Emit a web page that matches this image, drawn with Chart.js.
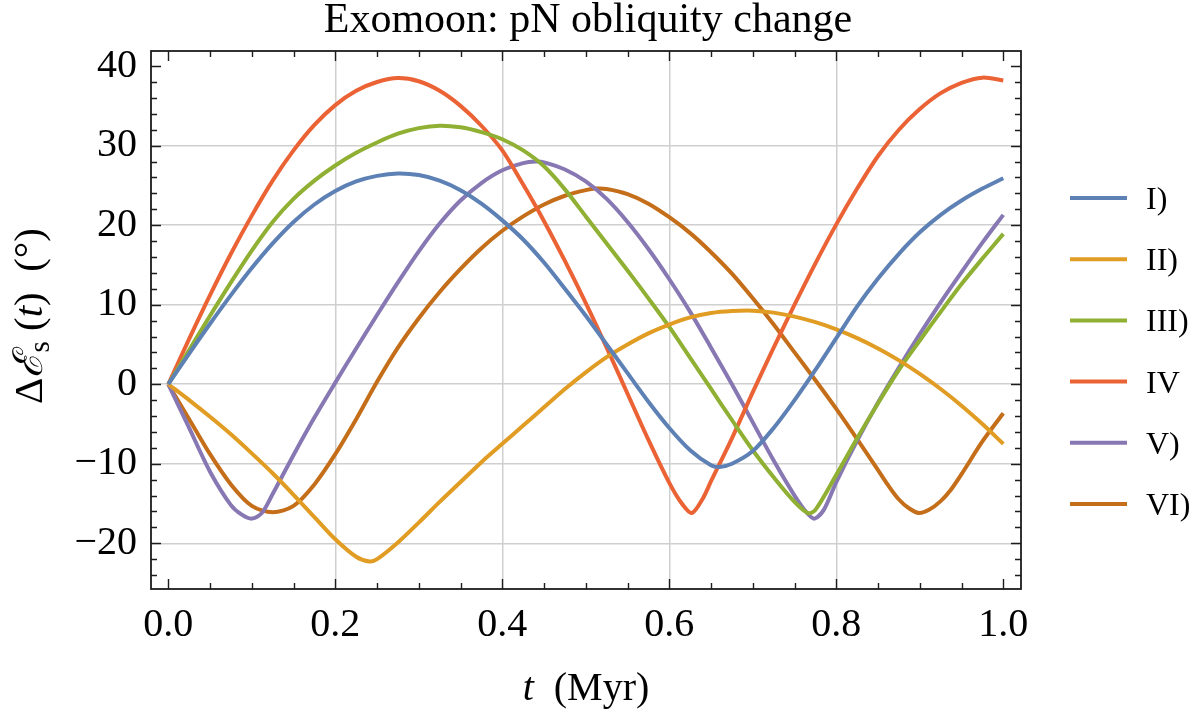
<!DOCTYPE html>
<html>
<head>
<meta charset="utf-8">
<script src="https://cdn.jsdelivr.net/npm/chart.js@4.4.1/dist/chart.umd.min.js"></script>
<style>
  html, body { margin: 0; padding: 0; background: #fff; }
  #wrap { width: 1200px; height: 717px; }
</style>
</head>
<body>
<div id="wrap"><canvas id="obliquityChart" width="1200" height="717"></canvas></div>
<script>
// series names and colours
const seriesNames = ['I)', 'II)', 'III)', 'IV', 'V)', 'VI)'];
const seriesColors = ['#5E81B5', '#E19C24', '#8FB032', '#EB6235', '#8778B3', '#C56E1A'];

// t (Myr) and obliquity change (deg) for each case
const tI = [0, 0.025, 0.05, 0.075, 0.1, 0.125, 0.15, 0.175, 0.2, 0.225, 0.25, 0.275, 0.3, 0.325, 0.35, 0.375, 0.4, 0.425, 0.45, 0.475, 0.5, 0.525, 0.55, 0.575, 0.6, 0.625, 0.65, 0.66, 0.675, 0.7, 0.725, 0.75, 0.775, 0.8, 0.825, 0.85, 0.875, 0.9, 0.925, 0.95, 0.975, 1.0];
const yI = [0, 3.85, 7.6, 11.2, 14.6, 17.7, 20.4, 22.6, 24.3, 25.5, 26.2, 26.5, 26.3, 25.6, 24.4, 22.7, 20.6, 18.2, 15.3, 12.0, 8.6, 5.0, 1.4, -2.2, -5.5, -8.3, -10.2, -10.4, -10.0, -8.4, -5.5, -2.0, 1.8, 5.8, 9.8, 13.3, 16.4, 19.1, 21.3, 23.1, 24.6, 25.9];

const tII = [0, 0.025, 0.05, 0.075, 0.1, 0.125, 0.15, 0.175, 0.2, 0.225, 0.241, 0.25, 0.275, 0.3, 0.325, 0.35, 0.375, 0.4, 0.425, 0.45, 0.475, 0.5, 0.525, 0.55, 0.575, 0.6, 0.625, 0.65, 0.675, 0.7, 0.725, 0.75, 0.775, 0.8, 0.825, 0.85, 0.875, 0.9, 0.925, 0.95, 0.975, 1.0];
const yII = [0, -2.0, -4.1, -6.3, -8.7, -11.2, -13.9, -16.7, -19.5, -21.7, -22.3, -22.0, -19.9, -17.4, -14.8, -12.3, -9.8, -7.5, -5.2, -2.9, -0.6, 1.5, 3.4, 5.0, 6.4, 7.5, 8.4, 8.95, 9.2, 9.25, 9.0, 8.5, 7.8, 6.9, 5.8, 4.5, 3.0, 1.3, -0.6, -2.7, -5.0, -7.5];

const tIII = [0, 0.025, 0.05, 0.075, 0.1, 0.125, 0.15, 0.175, 0.2, 0.225, 0.25, 0.275, 0.3, 0.325, 0.35, 0.375, 0.4, 0.425, 0.45, 0.475, 0.5, 0.525, 0.55, 0.575, 0.6, 0.625, 0.65, 0.675, 0.7, 0.725, 0.75, 0.766, 0.775, 0.8, 0.825, 0.85, 0.875, 0.9, 0.925, 0.95, 0.975, 1.0];
const yIII = [0, 4.3, 8.6, 12.8, 16.8, 20.4, 23.3, 25.6, 27.5, 29.1, 30.4, 31.5, 32.2, 32.5, 32.3, 31.7, 30.8, 29.4, 27.4, 24.5, 21.1, 17.7, 14.3, 10.8, 7.2, 3.3, -0.6, -4.5, -8.3, -11.7, -14.8, -16.2, -15.8, -11.4, -6.8, -2.4, 1.8, 5.5, 9.1, 12.6, 15.8, 18.9];

const tIV = [0, 0.025, 0.05, 0.075, 0.1, 0.125, 0.15, 0.175, 0.2, 0.225, 0.25, 0.275, 0.3, 0.325, 0.35, 0.375, 0.4, 0.425, 0.45, 0.475, 0.5, 0.525, 0.55, 0.575, 0.6, 0.615, 0.627, 0.64, 0.65, 0.675, 0.7, 0.725, 0.75, 0.775, 0.8, 0.825, 0.85, 0.875, 0.9, 0.925, 0.95, 0.975, 1.0];
const yIV = [0, 5.7, 11.2, 16.4, 21.2, 25.6, 29.4, 32.6, 35.1, 36.9, 38.0, 38.5, 38.1, 36.9, 35.0, 32.5, 29.4, 25.1, 20.5, 15.5, 10.2, 4.6, -1.2, -7.0, -12.4, -15.0, -16.2, -14.4, -12.2, -6.8, -1.0, 4.6, 10.0, 15.2, 20.1, 24.6, 28.7, 32.0, 34.6, 36.6, 37.9, 38.55, 38.2];

const tV = [0, 0.025, 0.05, 0.075, 0.088, 0.1, 0.112, 0.125, 0.15, 0.175, 0.2, 0.225, 0.25, 0.275, 0.3, 0.325, 0.35, 0.375, 0.4, 0.425, 0.44, 0.45, 0.475, 0.5, 0.525, 0.55, 0.575, 0.6, 0.625, 0.65, 0.675, 0.7, 0.725, 0.75, 0.765, 0.774, 0.785, 0.8, 0.825, 0.85, 0.875, 0.9, 0.925, 0.95, 0.975, 1.0];
const yV = [0, -5.5, -11.0, -15.2, -16.4, -16.9, -16.2, -13.8, -8.9, -4.2, 0.2, 4.5, 8.7, 12.8, 16.7, 20.2, 23.1, 25.3, 26.9, 27.8, 28.0, 27.9, 27.0, 25.5, 23.3, 20.4, 17.0, 13.2, 9.1, 4.6, 0.0, -4.8, -9.6, -14.0, -16.2, -16.9, -15.8, -12.3, -7.1, -2.3, 2.1, 6.3, 10.3, 14.1, 17.8, 21.3];

const tVI = [0, 0.025, 0.05, 0.075, 0.1, 0.125, 0.15, 0.175, 0.2, 0.225, 0.25, 0.275, 0.3, 0.325, 0.35, 0.375, 0.4, 0.425, 0.45, 0.475, 0.5, 0.512, 0.525, 0.55, 0.575, 0.6, 0.625, 0.65, 0.675, 0.7, 0.725, 0.75, 0.775, 0.8, 0.825, 0.85, 0.862, 0.875, 0.887, 0.899, 0.911, 0.925, 0.937, 0.95, 0.975, 1.0];
const yVI = [0, -4.4, -8.8, -12.6, -15.3, -16.1, -15.3, -12.6, -8.8, -4.4, 0.3, 4.6, 8.3, 11.6, 14.5, 17.1, 19.3, 21.1, 22.6, 23.7, 24.4, 24.6, 24.55, 23.9, 22.7, 21.0, 19.0, 16.6, 13.9, 10.8, 7.5, 4.0, 0.5, -3.1, -6.9, -10.8, -12.7, -14.5, -15.6, -16.2, -15.8, -14.7, -13.3, -11.3, -7.2, -3.65];

const seriesT = [tI, tII, tIII, tIV, tV, tVI];
const seriesY = [yI, yII, yIII, yIV, yV, yVI];

// axis ticks
const xTicks = [0, 0.2, 0.4, 0.6, 0.8, 1.0];
const yTicks = [-20, -10, 0, 10, 20, 30, 40];

const SERIF = "'Liberation Serif', 'Times New Roman', 'DejaVu Serif', serif";

// draw a row of text pieces with different fonts, centred on x
function drawRuns(ctx, runs, x, y) {
    let total = 0;
    runs.forEach(r => { ctx.font = r.font; r.w = ctx.measureText(r.text).width; total += r.w; });
    let cx = x - total / 2;
    runs.forEach(r => {
        ctx.font = r.font;
        ctx.fillText(r.text, cx, y + (r.dy || 0));
        cx += r.w;
    });
}

// frame, inward ticks, titles and legend
const decorPlugin = {
    id: 'decor',
    afterDatasetsDraw(chart) {
        const { ctx, chartArea: a, scales: { x, y } } = chart;
        ctx.save();
        ctx.strokeStyle = '#1c1c1c';
        ctx.lineWidth = 1.4;
        ctx.beginPath();
        for (let i = 0; i <= 20; i++) {
            const px = Math.round(x.getPixelForValue(i * 0.05)) + 0.5;
            const len = i % 4 === 0 ? 10 : 6;
            ctx.moveTo(px, a.bottom); ctx.lineTo(px, a.bottom - len);
            ctx.moveTo(px, a.top); ctx.lineTo(px, a.top + len);
        }
        for (let v = -24; v <= 40; v += 2) {
            const py = Math.round(y.getPixelForValue(v)) + 0.5;
            const len = v % 10 === 0 ? 10 : 6;
            ctx.moveTo(a.left, py); ctx.lineTo(a.left + len, py);
            ctx.moveTo(a.right, py); ctx.lineTo(a.right - len, py);
        }
        ctx.stroke();
        ctx.lineWidth = 1.8;
        ctx.strokeRect(a.left, a.top, a.right - a.left, a.bottom - a.top);
        ctx.restore();
    },
    afterDraw(chart) {
        const { ctx, chartArea: a } = chart;
        const midX = (a.left + a.right) / 2;
        ctx.save();
        ctx.fillStyle = '#000';
        ctx.textBaseline = 'alphabetic';
        ctx.textAlign = 'left';

        // title
        drawRuns(ctx, [{ text: 'Exomoon: pN obliquity change', font: '42px ' + SERIF }], midX + 2, 32);

        // x axis title
        drawRuns(ctx, [
            { text: 't', font: 'italic 40px ' + SERIF },
            { text: '  (Myr)', font: '40px ' + SERIF }
        ], midX, 700);

        // y axis title
        ctx.save();
        ctx.translate(42, 316);
        ctx.rotate(-Math.PI / 2);
        drawRuns(ctx, [
            { text: 'Δ', font: '41px ' + SERIF },
            { text: 'ℰ', font: 'italic 41px ' + SERIF },
            { text: 's', font: '29px ' + SERIF, dy: 7 },
            { text: ' (', font: '41px ' + SERIF },
            { text: 't', font: 'italic 41px ' + SERIF },
            { text: ')  (°)', font: '41px ' + SERIF }
        ], 0, 0);
        ctx.restore();

        // legend
        chart.data.datasets.forEach((ds, i) => {
            const ly = 198 + i * 61.2;
            ctx.strokeStyle = ds.borderColor;
            ctx.lineWidth = 4;
            ctx.beginPath();
            ctx.moveTo(1070, ly);
            ctx.lineTo(1127, ly);
            ctx.stroke();
            ctx.font = '32px ' + SERIF;
            ctx.fillText(ds.label, 1146, ly + 11);
        });
        ctx.restore();
    }
};

const datasets = seriesNames.map((name, i) => ({
    label: name,
    data: seriesT[i].map((t, j) => ({ x: t, y: seriesY[i][j] })),
    borderColor: seriesColors[i],
    backgroundColor: seriesColors[i],
    borderWidth: 4,
    pointRadius: 0,
    tension: 0.3,
    fill: false
}));

const ctx = document.getElementById('obliquityChart').getContext('2d');
new Chart(ctx, {
    type: 'line',
    data: { datasets: datasets },
    options: {
        responsive: false,
        animation: false,
        devicePixelRatio: 1,
        layout: { padding: { left: 0, top: 51, right: 179, bottom: 0 } },
        plugins: {
            legend: { display: false },
            tooltip: { enabled: false },
            title: { display: false }
        },
        scales: {
            x: {
                type: 'linear',
                min: -0.0207,
                max: 1.0212,
                afterFit: s => { s.height = 128; },
                afterBuildTicks: s => { s.ticks = xTicks.map(v => ({ value: v })); },
                border: { display: false },
                grid: {
                    drawTicks: false,
                    lineWidth: 1.5,
                    color: c => (c.tick && c.tick.value > 0.01 && c.tick.value < 0.99) ? '#cfcfcf' : 'rgba(0,0,0,0)'
                },
                ticks: {
                    padding: 12,
                    color: '#000',
                    font: { family: SERIF, size: 40 },
                    callback: v => v.toFixed(1)
                }
            },
            y: {
                type: 'linear',
                min: -25.75,
                max: 41.9,
                afterFit: s => { s.width = 151; },
                afterBuildTicks: s => { s.ticks = yTicks.map(v => ({ value: v })); },
                border: { display: false },
                grid: {
                    drawTicks: false,
                    lineWidth: 1.5,
                    color: c => (c.tick && c.tick.value < 35) ? '#cfcfcf' : 'rgba(0,0,0,0)'
                },
                ticks: {
                    padding: 14,
                    color: '#000',
                    font: { family: SERIF, size: 40 },
                    callback: v => String(v).replace('-', '\u2212')
                }
            }
        }
    },
    plugins: [decorPlugin]
});
</script>
</body>
</html>
